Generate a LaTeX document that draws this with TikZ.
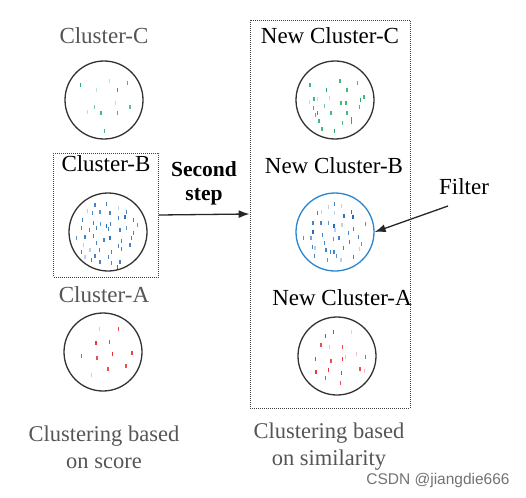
\documentclass[tikz,border=0pt]{standalone}
\usepackage{fontspec}
\setmainfont{Liberation Serif}
\newfontfamily\wmfont{Liberation Sans}
\usetikzlibrary{arrows.meta}
\definecolor{txtgray}{HTML}{555555}
\definecolor{cgreen}{HTML}{14A85E}
\definecolor{cblue}{HTML}{1766B8}
\definecolor{cred}{HTML}{EA2029}
\definecolor{ringblue}{HTML}{2A86CF}
\newcommand\dotsin[3]{%
  \foreach \dx/\dy/\op in {#3}{%
    \fill[#2,opacity=\op,shift={(#1)}] (\dx-0.7,\dy-1.9) rectangle (\dx+0.7,\dy+1.9);
  }}
\tikzset{
  lbl/.style={font=\fontsize{23}{27}\selectfont, inner sep=1pt},
  lblg/.style={lbl, text=txtgray},
  captxt/.style={font=\fontsize{22.5}{27}\selectfont, text=txtgray, align=center, inner sep=1pt},
  clu/.style={circle, draw=black!80, line width=1.3pt, minimum size=78pt, inner sep=0pt},
  dbox/.style={draw=black!75, line width=0.9pt, dash pattern=on 1pt off 1pt},
  arr/.style={-{Latex[length=11pt,width=8pt]}, line width=1.3pt, draw=black!85},
}
\begin{document}
\begin{tikzpicture}[x=1pt,y=-1pt]
\useasboundingbox (0,0) rectangle (526,497);
% left column
\node[lblg] (tc) at (104,36) {Cluster-C};
\node[clu] (lc) at (104,100) {};
\node[dbox, minimum width=105pt, minimum height=124pt, inner sep=0pt] (boxB) at (106,215) {};
\node[lbl] (tb) at (106,164) {Cluster-B};
\node[clu] (lb) at (108,232) {};
\node[lblg] (ta) at (104,295) {Cluster-A};
\node[clu] (la) at (103,352) {};
\node[captxt] (capL) at (104,447) {Clustering based\\[0pt]on score};
% right column
\node[dbox, minimum width=160pt, minimum height=388pt, inner sep=0pt] (boxR) at (330,214) {};
\node[lbl] (ntc) at (330,36) {New Cluster-C};
\node[clu] (rc) at (335,100) {};
\node[lbl] (ntb) at (334,166) {New Cluster-B};
\node[clu, draw=ringblue] (rb) at (335,232) {};
\node[lbl] (nta) at (342,298) {New Cluster-A};
\node[clu] (ra) at (337,356) {};
\node[captxt] (capR) at (329,447) {Clustering based\\[0pt]on similarity};
% dots
\dotsin{lc.center}{cgreen}{-23.3/-15/0.9, 5.3/-19/0.3, 23.7/-17.3/0.8, -7.3/-10/0.3, 13.3/-10/0.9,
  -9.7/6.7/0.6, 11.3/3.3/0.3, -16.7/12.3/0.3, -3/13.3/0.8, 13.3/13.3/0.8, 26/7.3/0.7, 0.3/30.7/0.8}
\dotsin{la.center}{cred}{-3.7/-23/0.3, 15.7/-23/0.8, -7/-8.7/0.9, 6.7/-9.7/0.8, 9.3/2/0.95, 29/1/0.85,
  -21.3/4/0.8, -6/6/0.8, 23/14/0.8, 5/17.3/0.8, -11.3/23/0.3}
\dotsin{rc.center}{cgreen}{-25/-14.7/0.8, 5/-19/0.8, 22.7/-17.3/0.8, -8.7/-10/0.9, 12/-10/0.8,
  -17.7/-1/0.3, -5.7/-1.7/0.3, -25.3/1.7/0.3, -21/-0.7/0.8, -10.7/6/0.6, 6/2.7/0.8, 11/3.3/0.8,
  29/-2.7/0.8, 25.3/0.3/0.95, -21.7/7.7/0.8, -17.7/12.7/0.95, -4/13.3/0.8, 12/13.3/0.8,
  -19.7/15/0.8, 24.7/7.3/0.8, -16/20.7/0.8, 16.7/19.3/0.9, 16.7/22.3/0.9, 7.3/23.3/0.8,
  -13/29.3/0.8, -0.7/30.7/0.95}
\dotsin{ra.center}{cred}{-3.3/-23.7/0.9, -11.3/-20/0.9, 14.7/-23.7/0.25, -16/-11.3/0.8, -7.3/-9.3/0.3,
  5.7/-9.3/0.8, 19.3/-2/0.3, 28.7/0.7/0.8, -21.3/3.3/0.9, -6/5/0.8, 5.3/3.3/0.9, 8.7/1.3/0.3,
  23/13/0.8, 27.3/15/0.3, -21/16.3/0.9, -8.7/14/0.9, 4.7/16.7/0.9, -11.7/22.3/0.8, 3.7/26.7/0.8}
\dotsin{rb.center}{cblue}{-0.7/-27.7/0.8, 6.7/-26/0.3, -6.7/-25.3/0.3, -17.7/-18.7/0.8, -13.3/-19.7/0.3,
  16.7/-19.7/0.9, -0.7/-18.7/0.3, 9/-16/0.9, 18/-14.7/0.95, -22/-9.3/0.8, -14/-9.3/0.8,
  -6.7/-8.7/0.7, -1/-6/0.95, 30.7/-7.7/0.7, 7/-7/0.3, 13.3/1.3/0.8, 18.7/-3/0.8, -22/-0.3/0.95,
  -12.3/3/0.8, 0/-2/0.3, 4/6.3/0.8, -1.7/7.3/0.7, -31.3/6.3/0.7, -24/5.7/0.6, 23.3/4.7/0.8,
  14.3/9.7/0.8, -10.3/10.7/0.8, -22.7/14.7/0.8, -20/16.3/0.3, 8.3/16.3/0.8, 26.3/12.3/0.7,
  -9/18/0.8, -4.3/19.7/0.8, -1/19.7/0.8, 1.7/24/0.7, -20.7/24/0.8, 18.3/25.3/0.8, -7.7/28/0.7,
  6/28/0.3, 24.7/17.3/0.3}
\dotsin{lb.center}{cblue}{-13/-27/0.8, -1.3/-28/0.8, -20.7/-21/0.3, -15.3/-19.3/0.8, -8/-20.3/0.7,
  2/-19.3/0.8, 10.3/-23.7/0.3, 18.7/-20.3/0.8, -25.3/-12/0.8, -14.7/-9.3/0.8, -7.3/-8/0.7,
  -1.3/-6/0.95, 2.7/-8/0.8, 10.3/-13.7/0.8, 17/-15.3/0.9, 25.3/-12/0.8, 29.3/-7/0.7, -26.3/-3.7/0.8,
  -18.7/-2/0.8, -11.3/-3.7/0.8, 0.3/-2.7/0.8, 12/-2/0.8, 18.7/-3.7/0.7, 25.3/0.7/0.8,
  -31.3/6.3/0.7, -23/5.3/0.8, -14.7/4/0.8, -4/8/0.8, 2/6.3/0.9, 13.7/8.7/0.8, 23.7/6.3/0.8,
  -24.7/13/0.3, -11.3/11.3/0.8, 10.3/14/0.8, 22/13/0.8, -26.3/19.7/0.8, -18/18/0.3, -8.7/18/0.8,
  3.7/19.7/0.8, 13.7/17.3/0.8, -23/24.7/0.3, -13/24/0.8, 0.3/24.7/0.8, -8/29.7/0.8, 3.7/31.3/0.8,
  12/29.7/0.8, -16.3/28/0.8, 9.3/35.3/0.9}
% arrow second step
\node[font=\bfseries\fontsize{21.5}{26}\selectfont, align=center, inner sep=1pt] (ss) at (204,183) {Second\\[-2pt]step};
\draw[arr] (boxB.east) -- (boxR.west);
% filter
\node[lbl] (flt) at (464,187) {Filter};
\coordinate (fs) at (448,206);
\draw[arr] (fs) -- (rb.east);
% watermark
\node[font=\wmfont\fontsize{15.5}{18}\selectfont, text=black!55, inner sep=0pt] (wm) at (438,480) {CSDN @jiangdie666};
\end{tikzpicture}
\end{document}
